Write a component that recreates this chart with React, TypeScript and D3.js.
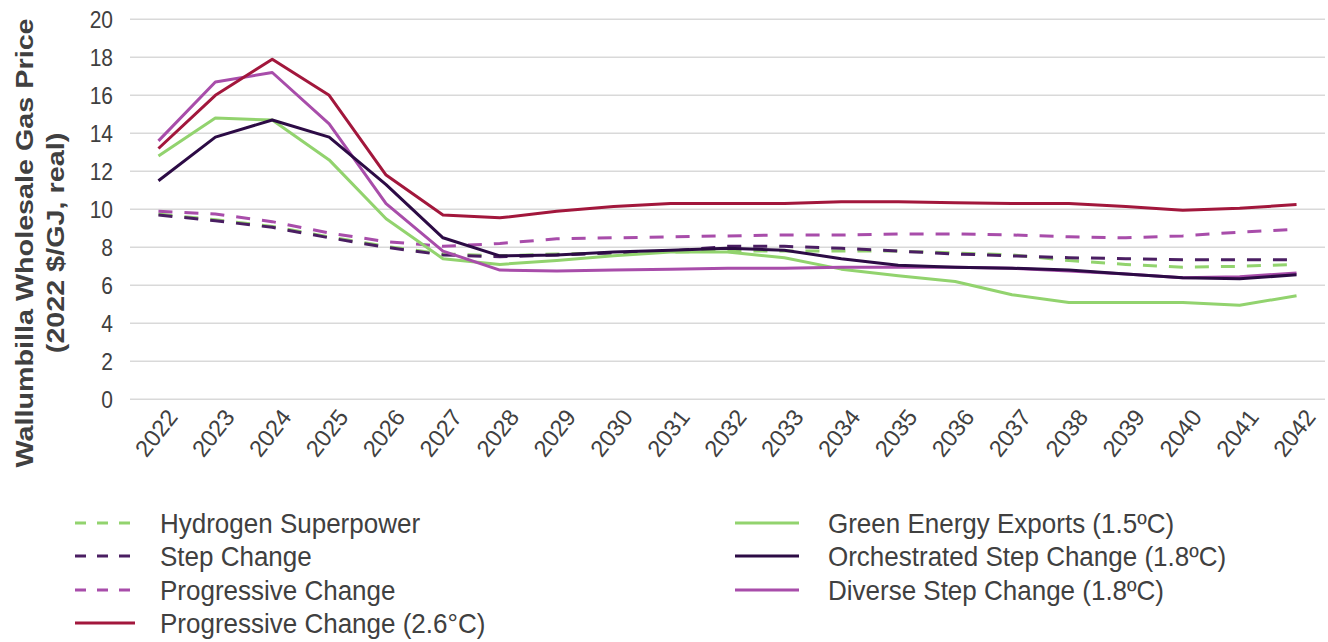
import React from "react";
import * as d3 from "d3";

const years = ["2022","2023","2024","2025","2026","2027","2028","2029","2030","2031","2032","2033","2034","2035","2036","2037","2038","2039","2040","2041","2042"];
const yTicks = [0, 2, 4, 6, 8, 10, 12, 14, 16, 18, 20];

const hydrogenSuperpower = [9.75, 9.45, 9.1, 8.55, 8.05, 7.65, 7.55, 7.65, 7.7, 7.75, 7.8, 7.8, 7.8, 7.8, 7.7, 7.6, 7.3, 7.1, 6.95, 7.0, 7.1];
const stepChange = [9.7, 9.4, 9.05, 8.5, 8.0, 7.6, 7.5, 7.6, 7.7, 7.8, 8.05, 8.05, 7.95, 7.8, 7.65, 7.55, 7.45, 7.4, 7.35, 7.35, 7.35];
const progressiveChange = [9.9, 9.75, 9.35, 8.75, 8.3, 8.05, 8.2, 8.45, 8.5, 8.55, 8.6, 8.65, 8.65, 8.7, 8.7, 8.65, 8.55, 8.5, 8.6, 8.8, 8.95];
const progressiveChange26 = [13.2, 16.0, 17.9, 16.0, 11.8, 9.7, 9.55, 9.9, 10.15, 10.3, 10.3, 10.3, 10.4, 10.4, 10.35, 10.3, 10.3, 10.15, 9.95, 10.05, 10.25];
const greenEnergyExports = [12.8, 14.8, 14.7, 12.6, 9.5, 7.4, 7.1, 7.3, 7.55, 7.75, 7.75, 7.45, 6.85, 6.5, 6.2, 5.5, 5.1, 5.1, 5.1, 4.95, 5.45];
const orchestratedStepChange = [11.5, 13.8, 14.7, 13.8, 11.3, 8.5, 7.55, 7.6, 7.75, 7.85, 7.95, 7.85, 7.4, 7.05, 6.95, 6.9, 6.8, 6.6, 6.4, 6.35, 6.55];
const diverseStepChange = [13.6, 16.7, 17.2, 14.5, 10.3, 7.8, 6.8, 6.75, 6.8, 6.85, 6.9, 6.9, 6.95, 6.95, 6.95, 6.9, 6.75, 6.6, 6.4, 6.45, 6.65];

const seriesNames = [
  "Hydrogen Superpower",
  "Step Change",
  "Progressive Change",
  "Progressive Change (2.6°C)",
  "Green Energy Exports (1.5ºC)",
  "Orchestrated Step Change (1.8ºC)",
  "Diverse Step Change (1.8ºC)",
];

const C_GREEN = "#92D36E";
const C_DARK = "#2C0B45";
const C_DARKDASH = "#4A1E62";
const C_PINK = "#A84DAA";
const C_RED = "#A2173C";

const series = [
  { name: seriesNames[0], values: hydrogenSuperpower, color: C_GREEN, dash: true },
  { name: seriesNames[1], values: stepChange, color: C_DARKDASH, dash: true },
  { name: seriesNames[2], values: progressiveChange, color: C_PINK, dash: true },
  { name: seriesNames[4], values: greenEnergyExports, color: C_GREEN, dash: false },
  { name: seriesNames[6], values: diverseStepChange, color: C_PINK, dash: false },
  { name: seriesNames[5], values: orchestratedStepChange, color: C_DARK, dash: false },
  { name: seriesNames[3], values: progressiveChange26, color: C_RED, dash: false },
];

const legendItems = [
  { name: seriesNames[0], color: C_GREEN, dash: true, col: 0, row: 0 },
  { name: seriesNames[1], color: C_DARKDASH, dash: true, col: 0, row: 1 },
  { name: seriesNames[2], color: C_PINK, dash: true, col: 0, row: 2 },
  { name: seriesNames[3], color: C_RED, dash: false, col: 0, row: 3 },
  { name: seriesNames[4], color: C_GREEN, dash: false, col: 1, row: 0 },
  { name: seriesNames[5], color: C_DARK, dash: false, col: 1, row: 1 },
  { name: seriesNames[6], color: C_PINK, dash: false, col: 1, row: 2 },
];

const FONT = "'Liberation Sans', Arial, sans-serif";
const TXT = "#404040";

export default function App() {
  const W = 1328, H = 642;
  const left = 130, right = 1325, top = 19.3, bottom = 399.3;
  const x = d3.scalePoint<string>().domain(years).range([left, right]).padding(0.5);
  const y = d3.scaleLinear().domain([0, 20]).range([bottom, top]);
  const line = d3.line<number>().x((_, i) => x(years[i]) as number).y((v) => y(v));

  const legX = [75, 735];
  const legTextX = [160, 828];
  const legY = [523, 556, 590, 623];

  return (
    <svg width={W} height={H} style={{ position: "absolute", left: 0, top: 0, background: "#fff" }} fontFamily={FONT}>
      <rect x={0} y={0} width={W} height={H} fill="#fff" />
      {yTicks.map((t) => (
        <g key={t}>
          <line x1={left} x2={right} y1={y(t)} y2={y(t)} stroke="#d9d9d9" strokeWidth={1.5} />
          <text x={0} y={0} transform={`translate(113,${y(t)}) scale(1,1.12)`} dy="0.36em" textAnchor="end" fontSize={21} fill={TXT}>{t}</text>
        </g>
      ))}
      {years.map((yr) => (
        <text key={yr} x={0} y={0} transform={`translate(${(x(yr) as number) + 7},${407}) rotate(-52)`} textAnchor="end" fontSize={23.5} fill={TXT} dy="0.72em">{yr}</text>
      ))}
      <g transform={`translate(33,${243}) scale(1,1.25) rotate(-90)`}>
        <text x={0} y={0} textAnchor="middle" fontSize={23} fontWeight="bold" fill={TXT}>Wallumbilla Wholesale Gas Price</text>
        <text x={0} y={31} textAnchor="middle" fontSize={23} fontWeight="bold" fill={TXT}>(2022 $/GJ, real)</text>
      </g>
      {series.map((s) => (
        <path key={s.name} d={line(s.values) || ""} fill="none" stroke={s.color} strokeWidth={3}
          strokeDasharray={s.dash ? "14,12" : undefined} strokeLinejoin="round" />
      ))}
      {legendItems.map((l) => (
        <g key={l.name}>
          <line x1={legX[l.col]} x2={legX[l.col] + (l.col === 0 ? 60 : 64)} y1={legY[l.row]} y2={legY[l.row]}
            stroke={l.color} strokeWidth={3} strokeDasharray={l.dash ? "11,11" : undefined} />
          <text x={0} y={0} transform={`translate(${legTextX[l.col]},${legY[l.row]}) scale(1,1.06)`} dy="0.35em" fontSize={26} fill={TXT}>{l.name}</text>
        </g>
      ))}
    </svg>
  );
}
